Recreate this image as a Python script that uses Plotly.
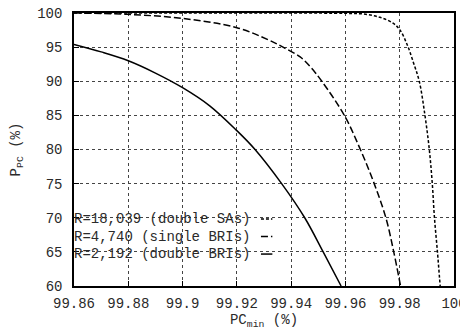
import plotly.graph_objects as go

# R = 18,039 (double SAs)
sa_x = [99.86, 99.90, 99.94, 99.96, 99.9666, 99.9727, 99.9776, 99.9801, 99.9828, 99.9850, 99.9872, 99.9893, 99.9909, 99.9920, 99.9928, 99.9939, 99.9949]
sa_y = [100.0, 100.0, 99.99, 99.95, 99.85, 99.37, 98.5, 97.5, 95.3, 92.8, 90.0, 85.0, 80.0, 75.0, 70.0, 65.0, 60.0]

# R = 4,740 (single BRIs)
sb_x = [99.86, 99.88, 99.90, 99.92, 99.932, 99.937, 99.9432, 99.947, 99.9513, 99.9596, 99.9655, 99.9706, 99.9749, 99.9778, 99.9803]
sb_y = [100.0, 99.8, 99.2, 97.85, 96.0, 95.0, 93.6, 92.15, 90.0, 85.0, 80.0, 75.0, 70.0, 65.0, 60.0]

# R = 2,192 (double BRIs)
db_x = [99.86, 99.87, 99.88, 99.89, 99.90, 99.91, 99.92, 99.9267, 99.9365, 99.945, 99.9518, 99.9584]
db_y = [95.4, 94.3, 93.0, 91.2, 89.06, 86.4, 82.76, 80.0, 75.0, 70.0, 65.0, 60.0]

labels = ["R=18,039 (double SAs)", "R=4,740 (single BRIs)", "R=2,192 (double BRIs)"]
x_ticks = [99.86, 99.88, 99.90, 99.92, 99.94, 99.96, 99.98, 100.0]
x_tick_text = ["99.86", "99.88", "99.9", "99.92", "99.94", "99.96", "99.98", "100"]
y_ticks = [60, 65, 70, 75, 80, 85, 90, 95, 100]

FONT = "Liberation Mono, Courier New, monospace"
TXT = "#2a2a2a"
dashes = ["3px,2px", "7px,3px", "solid"]

fig = go.Figure()
for xs, ys, name, d in [(sa_x, sa_y, labels[0], dashes[0]),
                        (sb_x, sb_y, labels[1], dashes[1]),
                        (db_x, db_y, labels[2], dashes[2])]:
    fig.add_trace(go.Scatter(x=xs, y=ys, mode="lines", name=name,
                             line=dict(color="black", width=1.5, dash=d,
                                       shape="spline", smoothing=1.0),
                             showlegend=False, cliponaxis=True))

# gnuplot-style key: white box, right-aligned text, sample line on the right
fig.add_shape(type="rect", xref="paper", yref="paper", x0=0.0, x1=0.56,
              y0=0.088, y1=0.278, fillcolor="white", line=dict(width=0),
              layer="between")
rows = [0.245, 0.181, 0.117]
for lab, yy, d in zip(labels, rows, dashes):
    fig.add_annotation(x=0.468, y=yy, xref="paper", yref="paper", text=lab,
                       showarrow=False, xanchor="right", yanchor="middle",
                       font=dict(family=FONT, size=14, color=TXT))
    fig.add_shape(type="line", xref="paper", yref="paper", x0=0.492, x1=0.522,
                  y0=yy, y1=yy, line=dict(color="black", width=1.5, dash=d))

axis_common = dict(showline=True, linecolor="black", linewidth=1.5, mirror=True,
                   showgrid=True, gridcolor="#444", griddash="dot", gridwidth=1,
                   zeroline=False, ticks="inside", ticklen=5, tickcolor="black",
                   automargin=False, ticklabeloverflow="allow",
                   tickfont=dict(family=FONT, size=14, color=TXT))

fig.update_xaxes(range=[99.86, 100.0], tickvals=x_ticks, ticktext=x_tick_text,
                 ticklabelstandoff=3,
                 title=dict(text="PC<sub>min</sub> (%)", standoff=4,
                            font=dict(family=FONT, size=14, color=TXT)),
                 **axis_common)
fig.update_yaxes(range=[60, 100], tickvals=y_ticks, ticklabelstandoff=7,
                 title=dict(text="P<sub>PC</sub> (%)", standoff=14,
                            font=dict(family=FONT, size=14, color=TXT)),
                 **axis_common)

# page body has an 8px margin, so the figure is sized to fit the window
fig.update_layout(width=460, height=324, plot_bgcolor="white", paper_bgcolor="white",
                  margin=dict(l=66, r=14, t=5, b=46, autoexpand=False),
                  showlegend=False)

fig.write_html("out.html")
